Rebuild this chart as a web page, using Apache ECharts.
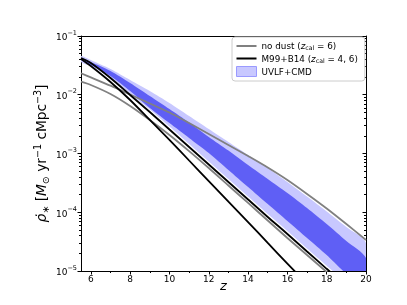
<!DOCTYPE html>
<html><head><meta charset="utf-8">
<script src="https://cdn.jsdelivr.net/npm/echarts@6/dist/echarts.min.js"></script>
<style>html,body{margin:0;padding:0;background:#fff}#c{width:407px;height:305px}</style>
</head><body><div id="c"></div>
<script>
// ---- data ----
const zGrid = [5.5, 6, 7, 8, 9, 10, 11, 12, 13, 14, 15, 16, 17, 18, 19, 20];
const noDustA = [0.0232, 0.0197, 0.01426, 0.01009, 0.0071, 0.00499, 0.0033, 0.00215, 0.0014, 0.000906, 0.000578, 0.000354, 0.000205, 0.000116, 6.31e-5, 3.37e-5];
const noDustB = [0.01667, 0.01466, 0.0103, 0.00644, 0.00372, 0.00207, 0.0011, 0.000566, 0.000285, 0.000144, 7.24e-5, 3.65e-5, 1.87e-5, 9.6e-6, 4.94e-6, 2.54e-6];
const m99A = [0.0406, 0.0308, 0.01648, 0.00814, 0.00372, 0.0017, 0.00076, 0.00034, 0.000152, 6.82e-5, 3.0e-5, 1.34e-5, 6.01e-6, 2.69e-6, 1.2e-6, 5.4e-7];
const m99B = [0.0422, 0.0347, 0.01928, 0.0099, 0.00508, 0.00256, 0.00129, 0.00065, 0.000327, 0.000165, 8.3e-5, 4.27e-5, 2.15e-5, 1.09e-5, 5.56e-6, 2.8e-6];
const outerUpper = [0.0457, 0.039, 0.0274, 0.01782, 0.01159, 0.00724, 0.00435, 0.00261, 0.00157, 0.000942, 0.000566, 0.000327, 0.000185, 0.000103, 5.61e-5, 3.0e-5];
const outerLower = [0.0361, 0.0308, 0.01928, 0.0103, 0.00561, 0.00288, 0.00145, 0.000731, 0.000368, 0.000185, 9.33e-5, 4.8e-5, 2.42e-5, 1.23e-5, 6.25e-6, 3.15e-6];
const innerUpper = [0.0422, 0.0361, 0.0254, 0.01585, 0.00952, 0.00572, 0.00337, 0.00191, 0.00112, 0.000637, 0.000368, 0.000213, 0.000118, 6.31e-5, 3.24e-5, 1.66e-5];
const innerLower = [0.039, 0.0321, 0.0209, 0.01159, 0.00595, 0.0033, 0.00184, 0.00102, 0.000524, 0.000269, 0.000138, 7.1e-5, 3.65e-5, 1.87e-5, 8.89e-6, 4.57e-6];
const xMajorTicks = [6, 8, 10, 12, 14, 16, 18, 20];
const xMinorTicks = [7, 9, 11, 13, 15, 17, 19];
const yMajorTicks = [1e-5, 1e-4, 1e-3, 1e-2, 1e-1];
const yMinorTicks = [];
[1e-5, 1e-4, 1e-3, 1e-2].forEach(d => { for (let k = 2; k <= 9; k++) yMinorTicks.push(+(d * k).toPrecision(3)); });

const pairs = (ys) => zGrid.map((z, i) => [z, ys[i]]);
const FONT = 'DejaVu Sans';
const LINE_ICON = 'path://M0,0L0.01,0L0.01,0.01Z M0,4.1L20,4.1L20,5.9L0,5.9Z M0,10L0.01,10L0.01,9.99Z';

function bandSeries(name, upper, lower, color, z) {
  return {
    name: name, type: 'custom', z: z, silent: true,
    itemStyle: { color: color },
    data: [[zGrid[0], upper[0]]],
    renderItem: function (params, api) {
      const pts = [];
      for (let i = 0; i < zGrid.length; i++) pts.push(api.coord([zGrid[i], upper[i]]));
      for (let i = zGrid.length - 1; i >= 0; i--) pts.push(api.coord([zGrid[i], lower[i]]));
      const cs = params.coordSys;
      return {
        type: 'group',
        clipPath: { type: 'rect', shape: { x: cs.x, y: cs.y, width: cs.width, height: cs.height } },
        children: [{ type: 'polygon', shape: { points: pts, smooth: 0.25 }, style: { fill: color, stroke: null } }]
      };
    }
  };
}
function lineSeries(name, ys, color) {
  return { name: name, type: 'line', data: pairs(ys), symbol: 'none', smooth: 0.3, clip: true, z: 5,
    lineStyle: { color: color, width: 1.8 }, itemStyle: { color: color } };
}
const supRich = {
  b: { fontSize: 9, fontFamily: FONT, color: '#000', lineHeight: 13, verticalAlign: 'bottom' },
  s: { fontSize: 6.5, fontFamily: FONT, color: '#000', lineHeight: 8, verticalAlign: 'top' }
};
const chart = echarts.init(document.getElementById('c'), null, { renderer: 'canvas' });
const common = { min: 1e-5, max: 1e-1, type: 'log', logBase: 10 };
chart.setOption({
  animation: false,
  backgroundColor: '#fff',
  grid: { left: 81, right: 41, top: 36, bottom: 34, outerBoundsMode: 'none', containLabel: false },
  legend: {
    orient: 'vertical', left: 232, top: 37,
    backgroundColor: '#fff', borderColor: '#cccccc', borderWidth: 1, borderRadius: 3,
    padding: [4, 7, 4, 4], itemGap: 2, itemWidth: 20, itemHeight: 10,
    textStyle: { fontFamily: FONT, fontSize: 8.8, color: '#000',
      rich: { t: { fontFamily: FONT, fontSize: 8.8, color: '#000', lineHeight: 11, verticalAlign: 'bottom' },
              i: { fontFamily: FONT, fontSize: 8.8, fontStyle: 'italic', color: '#000', lineHeight: 11, verticalAlign: 'bottom' },
              sb: { fontFamily: FONT, fontSize: 6.2, color: '#000', lineHeight: 8, verticalAlign: 'bottom' } } },
    formatter: function (n) {
      if (n === 'no dust') return '{t|no dust (}{i|z}{sb|cal}{t| = 6)}';
      if (n === 'M99+B14') return '{t|M99+B14 (}{i|z}{sb|cal}{t| = 4, 6)}';
      return '{t|' + n + '}';
    },
    data: [
      { name: 'no dust', icon: LINE_ICON },
      { name: 'M99+B14', icon: LINE_ICON },
      { name: 'UVLF+CMD', icon: 'rect', itemStyle: { color: '#c8c8ff', borderColor: '#9a9aff', borderWidth: 1 } }
    ]
  },
  xAxis: [
    { type: 'value', min: 5.5, max: 20, position: 'bottom',
      name: 'z', nameLocation: 'middle', nameGap: 9, nameMoveOverlap: false,
      nameTextStyle: { fontFamily: FONT, fontStyle: 'italic', fontSize: 13, color: '#000', verticalAlign: 'top' },
      axisLine: { lineStyle: { color: '#000', width: 1 } },
      axisTick: { show: true, customValues: xMajorTicks, length: 3.5, lineStyle: { color: '#000' } },
      axisLabel: { customValues: xMajorTicks, fontFamily: FONT, fontSize: 9, color: '#000', margin: 4 },
      splitLine: { show: false } },
    { type: 'value', min: 5.5, max: 20, position: 'bottom',
      axisLine: { show: false },
      axisTick: { show: true, customValues: xMinorTicks, length: 2, lineStyle: { color: '#000' } },
      axisLabel: { show: false }, splitLine: { show: false } },
    { type: 'value', min: 5.5, max: 20, position: 'top',
      axisLine: { show: true, lineStyle: { color: '#000', width: 1 } },
      axisTick: { show: false }, axisLabel: { show: false }, splitLine: { show: false } }
  ],
  yAxis: [
    Object.assign({}, common, { position: 'left',
      name: '{i|ρ̇}{sb|∗}{t| [}{i|M}{sb|⊙}{t| yr}{sp|−1}{t| cMpc}{sp|−3}{t|]}', nameLocation: 'middle', nameGap: 30, nameMoveOverlap: false,
      nameTextStyle: { fontFamily: FONT, fontSize: 13.7, color: '#000',
        rich: { i: { fontFamily: FONT, fontSize: 13.7, fontStyle: 'italic', lineHeight: 18, verticalAlign: 'middle' },
                t: { fontFamily: FONT, fontSize: 13.7, lineHeight: 18, verticalAlign: 'middle' },
                sb: { fontFamily: FONT, fontSize: 9.6, lineHeight: 12, verticalAlign: 'bottom' },
                sp: { fontFamily: FONT, fontSize: 9.6, lineHeight: 12, verticalAlign: 'top' } } },
      axisLine: { show: true, lineStyle: { color: '#000', width: 1 } },
      axisTick: { show: true, customValues: yMajorTicks, length: 3.5, lineStyle: { color: '#000' } },
      axisLabel: { customValues: yMajorTicks, margin: 4, rich: supRich,
        formatter: v => '{b|10}{s|−' + Math.round(-Math.log10(v)) + '}' },
      splitLine: { show: false } }),
    Object.assign({}, common, { position: 'left',
      axisLine: { show: false },
      axisTick: { show: true, customValues: yMinorTicks, length: 2, lineStyle: { color: '#000' } },
      axisLabel: { show: false }, splitLine: { show: false } }),
    Object.assign({}, common, { position: 'right',
      axisLine: { show: true, lineStyle: { color: '#000', width: 1 } },
      axisTick: { show: true, inside: true, customValues: yMajorTicks, length: 3.5, lineStyle: { color: '#000' } },
      axisLabel: { show: false }, splitLine: { show: false } }),
    Object.assign({}, common, { position: 'right',
      axisLine: { show: false },
      axisTick: { show: true, inside: true, customValues: yMinorTicks, length: 2, lineStyle: { color: '#000' } },
      axisLabel: { show: false }, splitLine: { show: false } })
  ],
  series: [
    bandSeries('UVLF+CMD', outerUpper, outerLower, '#c8c8ff', 1),
    bandSeries('UVLF+CMD inner', innerUpper, innerLower, '#5f5ff5', 2),
    lineSeries('no dust', noDustA, '#808080'),
    lineSeries('no dust', noDustB, '#808080'),
    lineSeries('M99+B14', m99A, '#000000'),
    lineSeries('M99+B14', m99B, '#000000')
  ]
});
</script></body></html>
